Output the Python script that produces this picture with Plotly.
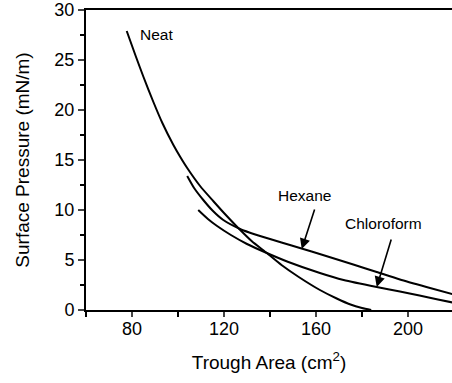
import plotly.graph_objects as go

# Neat film isotherm
neat_x = [77.7, 81.6, 85.0, 89.3, 93.2, 98.0, 101.0, 104.0, 109.6, 115.3, 120.0, 126.2, 132.0, 138.6, 145.0, 152.5, 161.7, 169.0, 175.0, 180.0, 184.0]
neat_y = [27.9, 25.4, 23.3, 20.8, 18.7, 16.5, 15.3, 14.2, 12.4, 10.9, 9.7, 8.2, 6.9, 5.7, 4.5, 3.3, 2.0, 1.15, 0.55, 0.2, 0.0]

# Hexane-spread isotherm
hex_x = [104.0, 107.0, 111.0, 115.0, 119.7, 127.0, 131.0, 137.1, 145.0, 153.0, 163.0, 176.2, 186.4, 196.5, 208.0, 220.0]
hex_y = [13.4, 12.2, 11.0, 9.95, 9.0, 8.1, 7.75, 7.3, 6.75, 6.2, 5.5, 4.55, 3.8, 3.05, 2.3, 1.55]

# Chloroform-spread isotherm
chl_x = [108.8, 113.0, 117.0, 123.0, 130.0, 138.6, 148.0, 161.7, 172.0, 186.4, 196.5, 205.0, 213.0, 220.0]
chl_y = [10.0, 9.1, 8.4, 7.5, 6.6, 5.7, 4.8, 3.7, 3.0, 2.3, 1.86, 1.45, 1.05, 0.72]

x_range = [60, 219.13]
y_range = [0, 30]
x_tickvals = [80, 120, 160, 200]
y_tickvals = [0, 5, 10, 15, 20, 25, 30]

FONT = "Liberation Sans, Arial, sans-serif"

fig = go.Figure()
for xs, ys in [(neat_x, neat_y), (hex_x, hex_y), (chl_x, chl_y)]:
    fig.add_trace(go.Scatter(x=xs, y=ys, mode="lines",
                             line=dict(color="black", width=2, shape="spline", smoothing=0.6),
                             showlegend=False, hoverinfo="skip"))

# text labels
fig.add_annotation(x=82.7, y=27.6, text="Neat", showarrow=False, xanchor="left",
                   font=dict(size=15.5, family=FONT, color="black"))
fig.add_annotation(x=155.1, y=11.5, text="Hexane", showarrow=False,
                   font=dict(size=15.5, family=FONT, color="black"))
fig.add_annotation(x=189.2, y=8.7, text="Chloroform", showarrow=False,
                   font=dict(size=15.5, family=FONT, color="black"))
# arrows
fig.add_annotation(x=153.8, y=6.1, ax=159.6, ay=10.2, axref="x", ayref="y", xref="x", yref="y",
                   text="", showarrow=True, arrowhead=2, arrowsize=1.3, arrowwidth=1.6, arrowcolor="black")
fig.add_annotation(x=186.4, y=2.3, ax=192.9, ay=7.2, axref="x", ayref="y", xref="x", yref="y",
                   text="", showarrow=True, arrowhead=2, arrowsize=1.3, arrowwidth=1.6, arrowcolor="black")

fig.update_xaxes(range=x_range, tickvals=x_tickvals, ticks="outside", ticklen=5, tickwidth=1.5,
                 showline=True, linecolor="black", linewidth=2, mirror=True, showgrid=False, zeroline=False,
                 tickfont=dict(size=18, family=FONT, color="black"), ticklabelstandoff=-4,
                 minor=dict(tickvals=[60, 100, 140, 180], ticks="outside", ticklen=5, tickwidth=1.5, tickcolor="black"),
                 title=dict(text="Trough Area (cm<sup>2</sup>)", font=dict(size=19, family=FONT, color="black"), standoff=18))
fig.update_yaxes(range=y_range, tickvals=y_tickvals, ticks="outside", ticklen=6, tickwidth=1.5,
                 showline=True, linecolor="black", linewidth=2, showgrid=False, zeroline=False,
                 tickfont=dict(size=18, family=FONT, color="black"),
                 minor=dict(tickvals=[2.5, 7.5, 12.5, 17.5, 22.5, 27.5], ticks="outside", ticklen=4, tickwidth=1.5, tickcolor="black"),
                 title=dict(text="Surface Pressure (mN/m)", font=dict(size=19, family=FONT, color="black"), standoff=20))

fig.update_layout(width=452, height=383, autosize=False,
                  margin=dict(l=86, r=0, t=10, b=73),
                  plot_bgcolor="white", paper_bgcolor="white")

fig.write_html("out.html")
